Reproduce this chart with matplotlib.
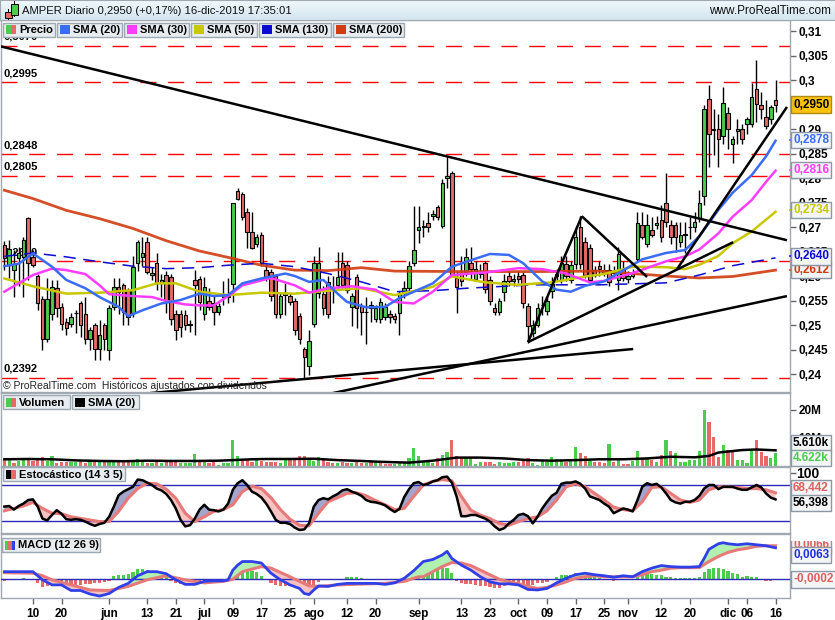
import matplotlib
matplotlib.use("Agg")
import matplotlib.pyplot as plt
import numpy as np
import pandas as pd
from matplotlib.patches import Rectangle
from matplotlib.colors import LinearSegmentedColormap

plt.rcParams['font.family'] = ['Liberation Sans', 'DejaVu Sans']

W, H = 835, 620

# ---------------- DATA ----------------
dates = pd.bdate_range("2019-05-02", "2019-12-16")

opens = [
.2663,.2622,.2613,.2636,.2639,.2719,.2639,.2600,.2554,.2472,
.2523,.2575,.2537,.2506,.2503,.2524,.2544,.2523,.2472,.2500,
.2452,.2500,.2449,.2537,.2578,.2581,.2571,.2524,.2626,.2639,
.2670,.2603,.2627,.2585,.2602,.2598,.2523,.2523,.2520,.2500,
.2592,.2593,.2523,.2549,.2544,.2527,.2558,.2560,.2583,.2774,
.2768,.2731,.2689,.2665,.2683,.2613,.2609,.2600,.2523,.2561,
.2559,.2549,.2518,.2452,.2417,.2503,.2565,.2563,.2588,.2575,
.2582,.2627,.2622,.2536,.2598,.2538,.2527,.2535,.2513,.2513,
.2516,.2523,.2518,.2524,.2565,.2575,.2627,.2694,.2700,.2709,
.2722,.2740,.2702,.2800,.2810,.2595,.2607,.2609,.2627,.2594,
.2605,.2627,.2592,.2534,.2527,.2568,.2600,.2589,.2600,.2602,
.2539,.2483,.2500,.2540,.2529,.2570,.2600,.2592,.2625,.2592,
.2625,.2699,.2670,.2658,.2612,.2621,.2606,.2612,.2607,.2592,
.2614,.2593,.2600,.2635,.2704,.2665,.2693,.2704,.2714,.2748,
.2704,.2704,.2670,.2683,.2700,.2701,.2719,.2764,.2961,.2898,
.2899,.2886,.2933,.2869,.2895,.2899,.2910,.2910,.2981,.2950,
.2925,.2920,.2960]
highs = [
.2672,.2673,.2653,.2660,.2680,.2720,.2653,.2605,.2560,.2595,
.2592,.2592,.2545,.2515,.2525,.2530,.2548,.2558,.2495,.2505,
.2510,.2505,.2540,.2595,.2595,.2585,.2575,.2640,.2673,.2680,
.2680,.2619,.2646,.2605,.2610,.2605,.2530,.2530,.2530,.2510,
.2612,.2600,.2598,.2575,.2560,.2545,.2590,.2595,.2750,.2779,
.2772,.2738,.2731,.2685,.2690,.2625,.2615,.2605,.2565,.2585,
.2565,.2555,.2525,.2455,.2490,.2640,.2660,.2580,.2600,.2600,
.2649,.2649,.2630,.2565,.2605,.2545,.2558,.2548,.2540,.2555,
.2545,.2530,.2525,.2570,.2590,.2630,.2742,.2742,.2715,.2730,
.2735,.2745,.2797,.2844,.2815,.2610,.2640,.2657,.2660,.2630,
.2625,.2630,.2600,.2545,.2555,.2605,.2610,.2605,.2610,.2609,
.2545,.2510,.2545,.2560,.2560,.2598,.2615,.2640,.2640,.2630,
.2700,.2723,.2680,.2665,.2620,.2630,.2625,.2625,.2620,.2660,
.2630,.2610,.2615,.2731,.2731,.2726,.2720,.2722,.2745,.2810,
.2715,.2710,.2710,.2711,.2721,.2730,.2775,.2950,.2990,.2940,
.2930,.2986,.2945,.2885,.2920,.2910,.2925,.2993,.3041,.2975,
.2960,.2950,.2999]
lows = [
.2612,.2595,.2557,.2580,.2557,.2592,.2618,.2530,.2449,.2465,
.2510,.2517,.2490,.2480,.2495,.2483,.2476,.2462,.2449,.2428,
.2428,.2449,.2428,.2530,.2523,.2500,.2500,.2517,.2610,.2620,
.2605,.2592,.2571,.2558,.2524,.2500,.2469,.2476,.2490,.2486,
.2479,.2530,.2510,.2530,.2500,.2520,.2540,.2545,.2547,.2755,
.2715,.2658,.2655,.2660,.2620,.2590,.2550,.2515,.2515,.2520,
.2540,.2480,.2462,.2392,.2398,.2495,.2555,.2520,.2515,.2545,
.2575,.2575,.2565,.2497,.2493,.2479,.2462,.2507,.2507,.2505,
.2510,.2505,.2505,.2480,.2555,.2570,.2620,.2667,.2680,.2690,
.2715,.2715,.2698,.2780,.2597,.2524,.2580,.2600,.2592,.2590,
.2595,.2565,.2540,.2520,.2520,.2550,.2580,.2580,.2585,.2535,
.2464,.2475,.2495,.2520,.2520,.2555,.2590,.2585,.2590,.2585,
.2615,.2615,.2595,.2585,.2598,.2600,.2600,.2580,.2595,.2571,
.2590,.2585,.2595,.2630,.2675,.2660,.2680,.2695,.2670,.2700,
.2665,.2650,.2660,.2646,.2675,.2690,.2710,.2745,.2823,.2847,
.2823,.2870,.2860,.2830,.2870,.2870,.2890,.2905,.2915,.2920,
.2900,.2910,.2935]
closes = [
.2636,.2656,.2624,.2646,.2674,.2626,.2623,.2544,.2472,.2554,
.2578,.2534,.2503,.2493,.2517,.2525,.2500,.2472,.2490,.2452,
.2479,.2472,.2534,.2578,.2568,.2527,.2517,.2619,.2670,.2646,
.2609,.2607,.2585,.2592,.2551,.2513,.2489,.2496,.2500,.2503,
.2581,.2547,.2578,.2537,.2527,.2538,.2561,.2557,.2748,.2758,
.2721,.2689,.2658,.2679,.2626,.2598,.2559,.2523,.2559,.2565,
.2547,.2489,.2472,.2434,.2468,.2626,.2627,.2534,.2523,.2578,
.2598,.2581,.2571,.2559,.2534,.2527,.2526,.2540,.2534,.2547,
.2536,.2517,.2513,.2565,.2575,.2620,.2654,.2700,.2702,.2700,
.2726,.2720,.2790,.2805,.2602,.2578,.2589,.2638,.2614,.2614,
.2607,.2573,.2548,.2527,.2548,.2589,.2589,.2593,.2593,.2544,
.2498,.2500,.2534,.2541,.2548,.2584,.2605,.2627,.2600,.2622,
.2679,.2625,.2602,.2592,.2603,.2614,.2612,.2588,.2611,.2644,
.2595,.2600,.2605,.2709,.2680,.2704,.2684,.2709,.2680,.2710,
.2680,.2680,.2684,.2685,.2701,.2710,.2748,.2940,.2890,.2900,
.2879,.2954,.2899,.2879,.2900,.2879,.2920,.2965,.2951,.2940,
.2906,.2944,.2950]

# moving averages read at sample points (index, price)
sma20_x = [0,3,6,10,13,17,20,24,26,29,33,37,41,44,47,50,54,59,61,64,67,70,72,76,80,83,90,94,97,102,106,109,113,116,119,122,126,129,134,139,143,146,150,153,157,160,162]
sma20_v = [.2620,.2625,.2646,.2619,.2592,.2575,.2557,.2537,.2518,.2530,.2544,.2551,.2564,.2559,.2561,.2585,.2595,.2605,.2600,.2588,.2592,.2564,.2547,.2536,.2537,.2555,.2585,.2619,.2629,.2645,.2643,.2626,.2589,.2572,.2568,.2580,.2589,.2606,.2634,.2647,.2653,.2681,.2735,.2770,.2806,.2844,.2876]
sma30_x = [0,6,10,13,17,20,22,27,31,34,38,41,44,47,50,56,61,64,68,73,78,82,86,90,94,101,108,113,118,123,126,132,139,143,146,150,153,157,160,162]
sma30_v = [.2568,.2602,.2615,.2612,.2604,.2581,.2563,.2559,.2557,.2549,.2542,.2540,.2540,.2559,.2581,.2596,.2581,.2566,.2575,.2579,.2572,.2547,.2544,.2568,.2602,.2607,.2616,.2614,.2605,.2587,.2590,.2606,.2630,.2640,.2654,.2687,.2721,.2755,.2792,.2815]
sma50_x = [0,6,13,20,27,32,36,41,47,54,61,68,75,82,90,94,101,108,115,122,126,132,139,143,146,150,153,157,162]
sma50_v = [.2595,.2579,.2564,.2566,.2571,.2585,.2585,.2568,.2561,.2566,.2564,.2570,.2575,.2561,.2578,.2599,.2587,.2582,.2587,.2599,.2604,.2619,.2618,.2614,.2623,.2641,.2667,.2691,.2731]
sma130_x = [0,6,13,20,27,34,41,47,54,61,68,75,82,90,97,111,125,139,146,153,162]
sma130_v = [.2640,.2647,.2639,.2629,.2620,.2615,.2617,.2622,.2626,.2619,.2605,.2588,.2568,.2570,.2575,.2582,.2582,.2586,.2602,.2621,.2637]
sma200_x = [0,6,13,20,27,34,41,47,54,61,68,75,82,97,111,125,139,146,153,162]
sma200_v = [.2775,.2758,.2734,.2717,.2697,.2672,.2651,.2638,.2622,.2612,.2611,.2617,.2610,.2609,.2609,.2610,.2600,.2596,.2599,.2612]

# horizontal levels and trend lines
levels = [0.3070, 0.2995, 0.2848, 0.2805, 0.2630, 0.2392]
level_labels = ["0,3070", "0,2995", "0,2848", "0,2805", "0,2630", "0,2392"]
trend_lines = [
    ((-0.92, .3069), (164.4, .2673)),
    ((69.0, .2361), (164.4, .2559)),
    ((30.6, .2361), (132.1, .2451)),
    ((110.0, .2465), (121.3, .2722)),
    ((121.3, .2722), (135.0, .2598)),
    ((110.0, .2465), (153.1, .2669)),
    ((141.3, .2614), (164.4, .2945)),
]

# volume (millions) and direction (1 up / 0 down)
volume = [
2.1,2.1,1.2,1.9,2.4,2.7,1.9,2.1,3.1,1.9,
3.6,1.0,1.5,1.5,1.5,1.5,2.1,1.2,1.8,1.5,
1.5,1.5,1.5,1.5,1.5,1.5,1.8,2.1,2.4,1.5,
1.0,1.0,1.5,1.2,1.5,1.5,1.8,1.0,1.0,1.2,
4.3,1.5,1.5,1.0,2.1,0.4,1.2,1.0,9.3,3.6,
1.8,2.1,1.5,2.1,1.8,1.5,1.5,1.5,1.2,2.1,
2.7,2.4,3.6,3.6,2.1,1.8,3.1,2.1,1.5,1.2,
1.2,1.5,1.0,1.0,1.5,1.2,1.2,1.5,1.5,1.0,
0.7,0.7,0.7,1.2,1.2,2.7,6.3,3.6,1.5,2.1,
1.2,2.7,3.9,5.1,9.3,3.6,3.3,2.7,2.7,0.7,
1.5,1.5,1.5,0.7,1.5,1.2,1.2,1.5,1.5,2.1,
2.7,1.2,0.4,1.9,1.5,3.1,2.4,2.1,1.5,1.9,
6.7,4.5,3.6,1.9,1.5,1.5,1.2,7.9,1.5,2.7,
0.7,0.7,1.9,5.4,2.7,2.7,2.1,1.5,3.9,9.3,
5.4,4.8,1.5,1.5,2.1,2.1,5.4,20.0,15.8,10.2,
3.3,7.5,5.7,5.1,2.1,2.1,1.2,5.7,9.3,5.1,
3.6,2.7,4.8]
volume_up = [
0,1,0,1,1,0,0,0,0,1,
1,0,0,0,1,1,0,0,1,0,
1,0,1,1,0,0,0,1,1,1,
0,1,0,1,0,0,0,1,1,1,
1,0,1,0,0,1,1,1,1,1,
0,0,0,1,0,0,0,0,1,1,
0,0,0,0,1,1,1,0,0,0,
1,0,0,1,0,0,1,0,1,0,
0,0,1,1,1,1,1,1,1,1,
1,0,1,1,0,0,0,1,1,1,
1,0,0,0,1,1,1,1,0,0,
0,1,1,1,1,1,1,1,0,1,
1,0,0,1,0,0,0,1,0,1,
0,0,1,1,0,1,0,1,0,1,
0,1,1,1,1,1,1,1,0,0,
0,1,0,0,1,1,1,1,0,0,
0,1,1]
vol_sma_x = [0,5,10,15,20,25,30,35,40,45,48,52,55,60,65,70,75,79,85,90,95,100,105,110,115,120,125,130,135,140,145,148,150,155,158,162]
vol_sma_v = [2.4,2.5,2.4,2.0,1.8,1.7,1.9,1.8,1.8,1.9,2.1,2.4,2.5,2.5,2.6,2.1,1.8,1.5,1.2,1.9,3.0,3.0,2.7,2.1,1.9,2.1,2.4,2.4,2.7,3.3,3.1,3.6,4.8,5.7,5.9,5.6]

# stochastic
stoch_k = [
44,45,39,45,49,55,56,44,24,21,
30,38,32,23,22,23,22,19,15,12,
15,17,27,44,63,69,73,77,89,88,
84,80,74,71,65,55,41,22,11,13,
24,39,47,39,38,36,39,49,72,83,
88,80,69,65,59,49,36,22,17,17,
15,9,5,6,16,44,55,58,56,61,
65,71,73,69,66,62,55,52,51,49,
46,40,35,40,60,73,83,85,80,82,
86,88,93,94,84,61,28,28,30,30,
27,24,19,11,5,8,16,22,30,32,
28,16,27,41,52,62,67,82,84,84,
86,82,74,61,58,55,49,44,33,37,
41,39,36,55,77,83,80,82,76,66,
55,51,49,52,52,55,62,74,80,80,
73,77,77,77,74,72,72,76,80,76,
66,59,56]
stoch_d_x = [0,4,6,8,10,12,14,17] + list(range(20, 163, 2))
stoch_d_v = [37,45,51,41,33,32,27,23,
19,19,36,58,74,83,82,73,58,33,
19,27,36,39,47,69,78,74,59,39,
23,13,12,33,52,59,66,67,62,54,
47,39,41,61,80,86,89,87,61,38,
30,24,16,13,19,24,27,37,55,77,
82,77,66,55,43,39,37,52,76,77,
66,55,51,55,72,77,77,76,74,74,
72,67]

# MACD (values x 1e-4)
macd_x = [0,3,6,8,10,12,14,16,18,20,22,24,26,28,30,32,34,36,38,40,42,44,46,47,48,49,50,52,54,56,58,60,62,63,64,65,66,68,70,72,74,76,78,80,82,84,86,88,90,92,93,94,96,98,100,102,104,106,108,110,112,114,116,118,120,122,124,126,128,130,132,134,136,138,140,142,144,146,147,148,150,151,152,154,156,158,160,162]
macd_v = [15,15,15,-1,-11,-11,-22,-22,-29,-33,-28,-16,-8,7,15,15,11,-1,-10,-10,-4,-3,-3,-1,18,28,35,35,32,12,-1,-11,-18,-28,-30,-21,-13,-14,-10,-8,-8,-8,-8,-10,-7,2,17,35,39,48,55,41,28,18,5,-5,-9,-9,-11,-20,-21,-18,-7,2,9,12,9,7,4,7,5,15,22,27,25,24,24,25,41,59,70,72,70,68,70,68,66,62]
signal_x = [0,6,8,10,14,18,22,26,30,34,38,42,46,48,50,54,56,60,64,66,70,76,80,84,87,88,90,92,94,96] + list(range(98, 163, 2))
signal_v = [13,12,7,-1,-11,-21,-22,-14,-1,7,-1,-7,-4,0,15,25,22,5,-13,-14,-11,-9,-8,-4,5,5,15,25,33,32,
27,18,9,0,-5,-9,-14,-18,-16,-11,-5,2,5,7,5,5,5,5,9,15,18,22,23,23,23,35,45,53,58,61,65,66,66]
macd_hist = [
-3,0,0,0,3,0,0,-8,-16,-14,
-11,-14,-14,-18,-16,-13,-11,-9,-9,-8,
-7,-5,-3,7,8,9,10,15,20,20,
18,15,12,9,5,-3,-7,-9,-11,-11,
-8,-5,-3,-2,-2,-2,-2,0,7,20,
24,22,17,15,7,0,-8,-11,-13,-14,
-14,-16,-18,-21,-20,-11,-5,-1,-1,-1,
-1,-2,4,5,4,3,0,0,0,0,
0,0,0,-1,4,5,12,18,22,20,
18,20,22,23,12,-3,-8,-9,-9,-11,
-13,-13,-16,-18,-18,-14,-11,-7,-7,-9,
-11,-11,-8,-7,-5,0,4,9,9,9,
12,12,9,5,4,2,1,1,-3,0,
0,0,0,4,9,10,10,9,9,5,
4,2,2,2,2,2,4,15,20,22,
22,20,17,13,10,5,7,5,4,0,
-3,-3,-2]

tick_dates = ["2019-05-10","2019-05-20","2019-06-03","2019-06-13","2019-06-21","2019-07-01",
              "2019-07-09","2019-07-17","2019-07-25","2019-08-01","2019-08-12","2019-08-20",
              "2019-09-02","2019-09-13","2019-09-23","2019-10-01","2019-10-09","2019-10-17",
              "2019-10-25","2019-11-01","2019-11-12","2019-11-20","2019-12-02","2019-12-06","2019-12-16"]
tick_labels = ["10","20","jun","13","21","jul","09","17","25","ago","12","20","sep","13","23",
               "oct","09","17","25","nov","12","20","dic","06","16"]

# ---------------- STYLE ----------------
GREEN = '#4ccc4c'
RED = '#e56a68'
C20, C30, C50, C130, C200 = '#3a6cf6', '#ff3cff', '#c8c800', '#0a0ad0', '#d03c10'
SPINE = '#a0a8b2'

n = len(dates)
idx = np.arange(n)
XL = (-0.71, 165.04)

fig = plt.figure(figsize=(W / 100, H / 100), dpi=100)
fig.patch.set_facecolor('white')


def ax_at(y0, y1, x0=1, x1=790):
    return fig.add_axes([x0 / W, 1 - y1 / H, (x1 - x0) / W, (y1 - y0) / H])


def rect(x0, y0, x1, y1, z=10, **kw):
    fig.add_artist(Rectangle((x0 / W, 1 - y1 / H), (x1 - x0) / W, (y1 - y0) / H,
                             transform=fig.transFigure, zorder=z, **kw))


def ftext(x, y, s, **kw):
    kw.setdefault('va', 'center')
    kw.setdefault('ha', 'left')
    kw.setdefault('zorder', 12)
    return fig.text(x / W, 1 - y / H, s, **kw)


def style_axis(ax):
    ax.set_xlim(*XL)
    for sp in ax.spines.values():
        sp.set_color(SPINE)
        sp.set_linewidth(1)
    ax.yaxis.tick_right()
    ax.set_xticks([])
    ax.tick_params(axis='y', direction='out', length=4, width=1, colors='#666666',
                   labelcolor='black', labelsize=8.5, pad=2)


def bold_ticks(ax):
    for t in ax.get_yticklabels() + ax.get_xticklabels():
        t.set_fontweight('bold')


def pfmt(v):
    return f"{v:.3f}".rstrip('0').rstrip('.').replace('.', ',')


# ---------------- PRICE PANE ----------------
axp = ax_at(20, 392)
style_axis(axp)
axp.set_ylim(0.236327, 0.312245)
pt = np.round(np.arange(0.24, 0.3101, 0.005), 3)
axp.set_yticks(pt)
axp.set_yticklabels([pfmt(v) for v in pt])
bold_ticks(axp)

for lv, lab in zip(levels, level_labels):
    ln = axp.axhline(lv, color='#ff0000', lw=1, zorder=1)
    ln.set_dashes((11.5, 8.5))
    axp.annotate(lab, (XL[0], lv), xytext=(3, 4), textcoords='offset pixels',
                 ha='left', va='bottom', fontsize=8, fontweight='bold', zorder=1.5)

for i in idx:
    o, h, l, c = opens[i], highs[i], lows[i], closes[i]
    up = c >= o
    axp.vlines(i, l, h, color='black', lw=1, zorder=3)
    axp.add_patch(Rectangle((i - 0.37, min(o, c)), 0.74, max(abs(c - o), 0.00005),
                            fc=GREEN if up else RED, ec='black', lw=0.8, zorder=3.1))

axp.plot(sma200_x, sma200_v, color=C200, lw=2, alpha=0.9, zorder=4)
l130, = axp.plot(sma130_x, sma130_v, color=C130, lw=1.1, zorder=4)
l130.set_dashes((8, 5))
axp.plot(sma50_x, sma50_v, color=C50, lw=1.8, zorder=4)
axp.plot(sma30_x, sma30_v, color=C30, lw=1.8, zorder=4)
axp.plot(sma20_x, sma20_v, color=C20, lw=1.8, zorder=4)

for (x0, y0), (x1, y1) in trend_lines:
    axp.plot([x0, x1], [y0, y1], color='black', lw=1.8, zorder=5, solid_capstyle='butt')

ftext(3, 386, "\u00a9 ProRealTime.com  Hist\u00f3ricos ajustados con dividendos",
      fontsize=7.5, color='#222222', zorder=2)


def value_box(y, s, color, fc='#f3f5f7', ec='#8c98a4', clip_ax=None):
    t = ftext(793, y, s, fontsize=8.5, fontweight='bold', color=color,
              bbox=dict(boxstyle='square,pad=0.18', fc=fc, ec=ec, lw=1))
    if clip_ax is not None:
        t.set_clip_box(clip_ax.bbox)
        t.set_clip_on(True)
    return t


def ypx_price(v):
    return 31 + (0.31 - v) * 4900

for v, s, col in [(0.2612, "0,2612", C200), (0.2640, "0,2640", C130),
                  (0.2734, "0,2734", C50), (0.2816, "0,2816", C30),
                  (0.2878, "0,2878", C20)]:
    axp.plot([1.0, 1.007], [v, v], transform=axp.get_yaxis_transform(),
             clip_on=False, color=col, lw=1.2, zorder=6)
    value_box(ypx_price(v), s, col)
value_box(ypx_price(0.2950), "0,2950", 'black', fc='#ffc20e', ec='#b08a10')

# ---------------- VOLUME PANE ----------------
axv = ax_at(393, 466)
style_axis(axv)
axv.set_ylim(0, 26.07)
vcols = [GREEN if u else RED for u in volume_up]
axv.bar(idx, volume, width=0.68, color=vcols, zorder=2)
axv.plot(vol_sma_x, vol_sma_v, color='black', lw=1.8, zorder=3)
axv.set_yticks([10, 20])
axv.set_yticklabels(["10M", "20M"])
bold_ticks(axv)
value_box(443, "5.610k", 'black')
value_box(458, "4.622k", GREEN)

# ---------------- STOCHASTIC PANE ----------------
axs = ax_at(467, 533)
style_axis(axs)
axs.set_ylim(0, 110)
k = np.array(stoch_k, dtype=float)
d_on_k = np.interp(idx, stoch_d_x, stoch_d_v)
axs.fill_between(idx, k, d_on_k, where=k >= d_on_k, interpolate=True,
                 color='#a4a4cc', lw=0, zorder=1)
axs.fill_between(idx, k, d_on_k, where=k < d_on_k, interpolate=True,
                 color='#f6c2c2', lw=0, zorder=1)
axs.axhline(80, color='#2b2bb8', lw=1, zorder=2)
axs.axhline(20, color='#2b2bb8', lw=1, zorder=2)
axs.plot(stoch_d_x, stoch_d_v, color='#e67a78', lw=2.2, zorder=3)
axs.plot(idx, k, color='black', lw=1.8, zorder=4)
axs.set_yticks([100])
axs.set_yticklabels([""])
ftext(796, 474, "100", fontsize=10, fontweight='bold', color='black', zorder=12)
value_box(488, "68,442", '#e0605e')
value_box(503, "56,398", 'black')

# ---------------- MACD PANE ----------------
axm = ax_at(534, 598)
style_axis(axm)
axm.set_ylim(-0.00368 * 1e4, 0.008917 * 1e4)
hist = np.array(macd_hist, dtype=float)
axm.bar(idx, hist, width=0.68, color=[GREEN if h >= 0 else RED for h in hist], zorder=1)
grid = np.linspace(0, n - 1, 1200)
mg = np.interp(grid, macd_x, macd_v)
sg = np.interp(grid, signal_x, signal_v)
axm.fill_between(grid, mg, sg, where=mg >= sg, interpolate=True, color='#b2f0b2', lw=0, zorder=2)
axm.fill_between(grid, mg, sg, where=mg < sg, interpolate=True, color='#f6c2c2', lw=0, zorder=2)
axm.axhline(0, color='#2b2bb8', lw=1, zorder=3)
axm.plot(signal_x, signal_v, color='#e67a78', lw=2.2, zorder=4)
axm.plot(macd_x, macd_v, color='#3040e8', lw=2, zorder=5)
axm.set_yticks([])
tick_idx = [dates.get_loc(pd.Timestamp(d)) for d in tick_dates]
axm.set_xticks(tick_idx)
axm.set_xticklabels(tick_labels)
axm.tick_params(axis='x', direction='out', length=4, width=1, colors='#666666',
                labelcolor='black', labelsize=8.5, pad=3)
bold_ticks(axm)

clip_m = fig.add_axes([790 / W, 1 - 598 / H, 45 / W, (598 - 541) / H])
clip_m.axis('off')
value_box(545, "0,0066", '#e0605e', clip_ax=clip_m)
value_box(555, "0,0063", '#2030e0')
value_box(579.5, "-0,0002", '#e0605e')

# ---------------- HEADER & LEGENDS ----------------
hdr = fig.add_axes([0, 1 - 20 / H, 1, 20 / H])
grad = np.linspace(0, 1, 20).reshape(-1, 1)
cmap = LinearSegmentedColormap.from_list('hdr', ['#f0f8fc', '#d4e6ef'])
hdr.imshow(grad, aspect='auto', cmap=cmap, extent=(0, 1, 0, 1))
hdr.set_xticks([]); hdr.set_yticks([])
for sp in hdr.spines.values():
    sp.set_color(SPINE)

rect(8, 9, 9, 20, z=13, fc='black', ec='none')
rect(5, 12, 12, 18, z=14, fc=RED, ec='black', lw=0.7)
rect(14, 1, 15, 17, z=13, fc='black', ec='none')
rect(11, 4, 18, 15, z=14, fc=GREEN, ec='black', lw=0.7)
ftext(22, 11, "AMPER Diario 0,2950 (+0,17%) 16-dic-2019 17:35:01", fontsize=8.1, color='#111111', zorder=14)
ftext(831, 11, "www.ProRealTime.com", fontsize=8.5, ha='right', color='#111111', zorder=14)


def legend_item(x0, x1, y0, y1, colors, label):
    rect(x0, y0, x1, y1, fc='#e6ecf0', ec='#9ca8b2', lw=1)
    sx = x0 + 3
    total = 10
    wseg = total / len(colors)
    for j, c in enumerate(colors):
        rect(sx + j * wseg, y0 + 2.5, sx + (j + 1) * wseg, y1 - 2.5, z=11, fc=c, ec='none')
    ftext(sx + 13, (y0 + y1) / 2 + 0.5, label, fontsize=8, fontweight='bold', color='black')

legend_item(3, 55, 22.5, 36.5, [GREEN, RED], "Precio")
legend_item(57, 122, 22.5, 36.5, [C20], "SMA (20)")
legend_item(124, 189, 22.5, 36.5, [C30], "SMA (30)")
legend_item(191, 257, 22.5, 36.5, [C50], "SMA (50)")
legend_item(259, 331, 22.5, 36.5, [C130], "SMA (130)")
legend_item(333, 404, 22.5, 36.5, [C200], "SMA (200)")

legend_item(3, 70, 395, 409, [GREEN, RED], "Volumen")
legend_item(72, 139, 395, 409, ['black'], "SMA (20)")
legend_item(3, 125, 467, 481, ['black', RED], "Estoc\u00e1stico (14 3 5)")
legend_item(2, 100, 538, 552, [GREEN, RED, '#3040e8'], "MACD (12 26 9)")

fig.savefig("out.png", dpi=100, facecolor='white')
